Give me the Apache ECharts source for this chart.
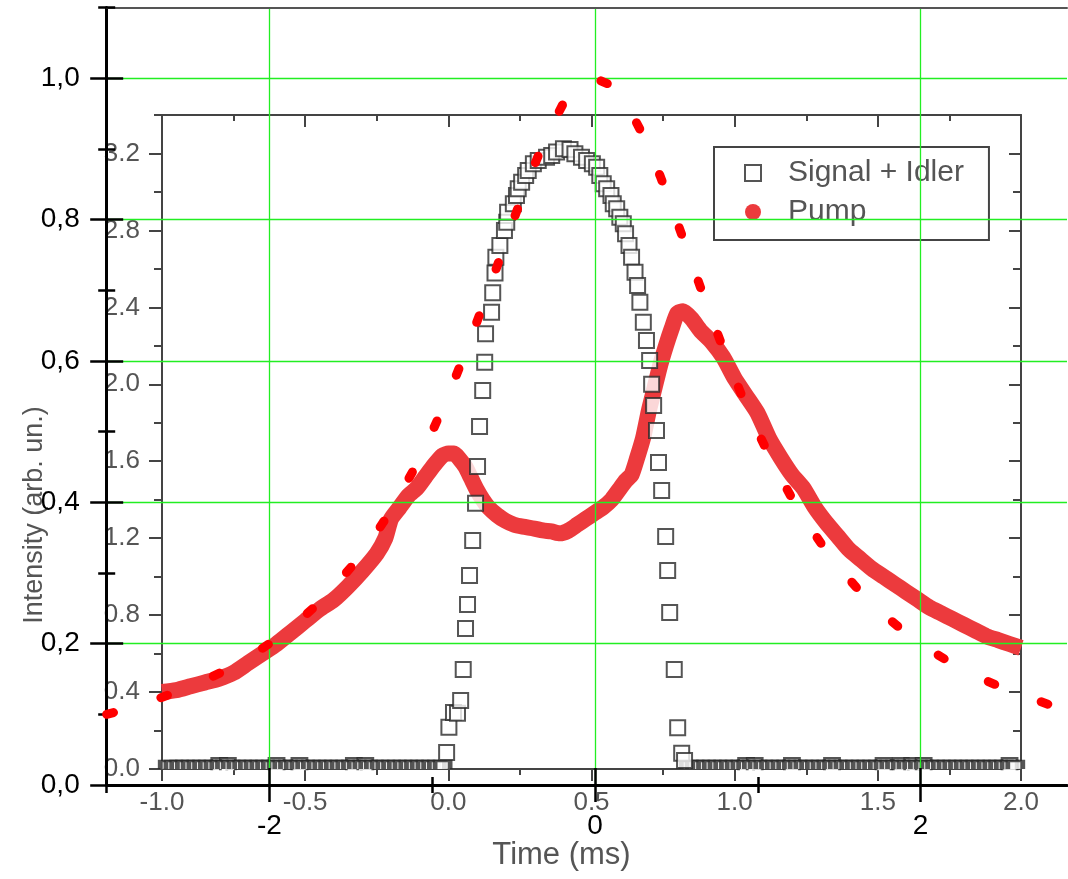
<!DOCTYPE html>
<html><head><meta charset="utf-8">
<script src="https://cdn.jsdelivr.net/npm/echarts@6/dist/echarts.min.js"></script>
<style>html,body{margin:0;padding:0;background:#fff}#c{width:1068px;height:879px}</style>
</head><body><div id="c"></div>
<script>
// ---------- inner (embedded) chart data ----------
const pumpT = [-1.00,-0.95,-0.90,-0.85,-0.80,-0.75,-0.70,-0.65,-0.60,-0.55,
  -0.50,-0.45,-0.40,-0.35,-0.30,-0.25,-0.22,-0.20,-0.17,-0.14,
  -0.11,-0.08,-0.05,-0.02,0.00,0.02,0.04,0.06,0.08,0.10,
  0.12,0.14,0.17,0.20,0.23,0.26,0.30,0.33,0.36,0.39,
  0.42,0.45,0.48,0.51,0.54,0.57,0.60,0.62,0.64,0.66,
  0.68,0.70,0.72,0.74,0.76,0.78,0.80,0.82,0.85,0.88,
  0.92,0.96,1.00,1.04,1.08,1.12,1.16,1.20,1.24,1.28,
  1.32,1.36,1.40,1.44,1.48,1.52,1.56,1.60,1.64,1.68,
  1.72,1.76,1.80,1.84,1.88,1.92,1.96,2.00];
const pumpV = [0.40,0.41,0.43,0.45,0.47,0.50,0.55,0.60,0.65,0.71,
  0.77,0.83,0.88,0.95,1.03,1.12,1.20,1.30,1.36,1.42,
  1.46,1.52,1.58,1.63,1.64,1.64,1.61,1.57,1.51,1.45,
  1.40,1.36,1.32,1.29,1.27,1.26,1.25,1.24,1.235,1.225,
  1.24,1.27,1.30,1.33,1.36,1.40,1.46,1.50,1.53,1.62,
  1.72,1.86,1.98,2.10,2.20,2.29,2.37,2.38,2.34,2.28,
  2.22,2.14,2.03,1.94,1.85,1.72,1.62,1.53,1.46,1.36,
  1.28,1.21,1.14,1.09,1.04,1.00,0.96,0.92,0.88,0.84,
  0.81,0.78,0.75,0.72,0.69,0.67,0.65,0.63];

const sigT = [-0.006,0.002,0.018,0.032,0.043,0.052,0.060,0.067,0.074,0.085,
  0.095,0.102,0.109,0.120,0.127,0.130,0.151,0.155,0.163,0.166,
  0.180,0.196,0.204,0.207,0.227,0.238,0.244,0.256,0.270,0.279,
  0.297,0.314,0.343,0.361,0.378,0.402,0.425,0.442,0.465,0.483,
  0.503,0.518,0.529,0.541,0.553,0.568,0.576,0.588,0.599,0.611,
  0.619,0.631,0.640,0.652,0.661,0.669,0.681,0.692,0.703,0.710,
  0.717,0.727,0.734,0.745,0.759,0.766,0.773,0.789,0.801,0.815,
  0.825];
const sigV = [0.086,0.217,0.294,0.290,0.356,0.517,0.731,0.855,1.006,1.188,
  1.381,1.573,1.781,1.968,2.114,2.263,2.375,2.476,2.578,2.661,
  2.722,2.800,2.843,2.895,2.939,2.982,3.017,3.051,3.086,3.112,
  3.147,3.164,3.181,3.190,3.207,3.225,3.220,3.199,3.181,3.164,
  3.147,3.129,3.086,3.043,3.017,2.982,2.939,2.913,2.869,2.835,
  2.783,2.722,2.661,2.583,2.514,2.427,2.323,2.228,2.124,2.000,
  1.890,1.760,1.594,1.448,1.209,1.032,0.814,0.517,0.214,0.082,
  0.044];

// baseline (zero-level) Signal + Idler points
const baseT = [-0.98,-0.96,-0.94,-0.92,-0.90,-0.88,-0.86,-0.84,-0.82,-0.80,
  -0.78,-0.76,-0.74,-0.72,-0.70,-0.68,-0.66,-0.64,-0.62,-0.60,
  -0.58,-0.56,-0.54,-0.52,-0.50,-0.48,-0.46,-0.44,-0.42,-0.40,
  -0.38,-0.36,-0.34,-0.32,-0.30,-0.28,-0.26,-0.24,-0.22,-0.20,
  -0.18,-0.16,-0.14,-0.12,-0.10,-0.08,-0.06,-0.04,-0.02,
  0.84,0.86,0.88,0.90,0.92,0.94,0.96,0.98,1.00,1.02,
  1.04,1.06,1.08,1.10,1.12,1.14,1.16,1.18,1.20,1.22,
  1.24,1.26,1.28,1.30,1.32,1.34,1.36,1.38,1.40,1.42,
  1.44,1.46,1.48,1.50,1.52,1.54,1.56,1.58,1.60,1.62,
  1.64,1.66,1.68,1.70,1.72,1.74,1.76,1.78,1.80,1.82,
  1.84,1.86,1.88,1.90,1.92,1.94,1.96,1.98];
const baseV = baseT.map(() => 0);
const raisedT = [-0.80,-0.77,-0.60,-0.52,-0.33,-0.29,1.04,1.07,1.20,1.34,1.52,1.58,1.62,1.66,1.96];
const raisedV = [0.025,0.025,0.025,0.025,0.025,0.025,0.025,0.025,0.025,0.025,0.025,0.025,0.025,0.025,0.025];

// ---------- outer (overlay) curve ----------
const fitX = [-3.0,-2.9,-2.8,-2.7,-2.6,-2.5,-2.4,-2.3,-2.2,-2.1,
  -2.0,-1.9,-1.8,-1.7,-1.6,-1.5,-1.4,-1.3,-1.2,-1.1,
  -1.0,-0.9,-0.8,-0.7,-0.6,-0.5,-0.4,-0.3,-0.2,-0.1,
  0.0,0.1,0.2,0.3,0.4,0.5,0.6,0.7,0.8,0.9,
  1.0,1.1,1.2,1.3,1.4,1.5,1.6,1.7,1.8,1.9,
  2.0,2.1,2.2,2.3,2.4,2.5,2.6,2.7,2.8,2.9,3.0];
const fitY = [0.100,0.106,0.113,0.121,0.129,0.138,0.148,0.159,0.171,0.185,
  0.200,0.217,0.236,0.257,0.281,0.308,0.338,0.372,0.410,0.452,
  0.500,0.552,0.610,0.671,0.735,0.800,0.862,0.917,0.962,0.990,
  1.000,0.990,0.962,0.917,0.862,0.800,0.735,0.671,0.610,0.552,
  0.500,0.452,0.410,0.372,0.338,0.308,0.281,0.257,0.236,0.217,
  0.200,0.185,0.171,0.159,0.148,0.138,0.129,0.121,0.113,0.106,0.100];

// tick values
const innerYMajor = [0, 0.4, 0.8, 1.2, 1.6, 2.0, 2.4, 2.8, 3.2];
const innerYMinor = [0.2, 0.6, 1.0, 1.4, 1.8, 2.2, 2.6, 3.0, 3.4];
const outerXMajor = [-2, 0, 2];
const outerXMinorOut = [-3, -1, 1];
const outerXMinorIn = [-1, 1];
const outerYMajor = [0, 0.2, 0.4, 0.6, 0.8, 1.0];
const outerYMinor = [0.1, 0.3, 0.5, 0.7, 0.9, 1.1];

const FONT = 'Liberation Sans, Arial, sans-serif';
const GREY = '#444';
const TXT = '#555';
const GREEN = '#22ee22';
const zip = (a, b) => a.map((v, i) => [v, b[i]]);

const none = {show: false};
const noLine = {show: false, onZero: false};
function innerX(pos, extra) {
  return Object.assign({
    gridIndex: 0, type: 'value', min: -1, max: 2, interval: 0.5, position: pos,
    axisLine: {show: true, onZero: false, lineStyle: {color: GREY, width: 2}},
    axisTick: {show: true, length: 12, lineStyle: {color: GREY, width: 2}},
    minorTick: {show: true, splitNumber: 2, length: 6, lineStyle: {color: GREY, width: 2}},
    axisLabel: none, splitLine: none
  }, extra);
}
function innerY(pos, ticks, len, inside, extra) {
  return Object.assign({
    gridIndex: 0, type: 'value', min: 0, max: 3.4, position: pos,
    axisLine: noLine,
    axisTick: {show: true, inside: inside, length: len, customValues: ticks, lineStyle: {color: GREY, width: 2}},
    axisLabel: none, splitLine: none
  }, extra);
}
function outerX(ticks, len, inside, extra) {
  return Object.assign({
    gridIndex: 1, type: 'value', min: -3, max: 2.9, position: 'bottom', z: 6,
    axisLine: noLine,
    axisTick: {show: true, inside: inside, length: len, customValues: ticks, lineStyle: {color: '#000', width: 2.5}},
    axisLabel: none, splitLine: none
  }, extra);
}
function outerY(ticks, len, inside, extra) {
  return Object.assign({
    gridIndex: 1, type: 'value', min: 0, max: 1.1, position: 'left', z: 6,
    axisLine: noLine,
    axisTick: {show: true, inside: inside, length: len, customValues: ticks, lineStyle: {color: '#000', width: 2.5}},
    axisLabel: none, splitLine: none
  }, extra);
}

const chart = echarts.init(document.getElementById('c'), null, {renderer: 'canvas'});
chart.setOption({
  animation: false,
  backgroundColor: '#fff',
  textStyle: {fontFamily: FONT},
  grid: [
    {left: 162, top: 115, width: 859, height: 654},
    {left: 106.7, top: 7.6, width: 960.3, height: 777.4}
  ],
  legend: {
    orient: 'vertical', left: 714, top: 147, z: 3,
    padding: [11, 25, 13, 30], itemGap: 9, itemWidth: 16, itemHeight: 16,
    backgroundColor: '#fff', borderColor: GREY, borderWidth: 2, borderRadius: 0,
    selectedMode: false,
    textStyle: {fontSize: 30, color: TXT, fontFamily: FONT, padding: [0, 0, 0, 22]},
    data: [
      {name: 'Signal + Idler', icon: 'rect', itemStyle: {color: '#fff', borderColor: '#2b2b2b', borderWidth: 2}},
      {name: 'Pump', icon: 'circle', itemStyle: {color: '#ec3a3d', borderWidth: 0}}
    ]
  },
  xAxis: [
    innerX('bottom', {
      axisLabel: {show: true, margin: 21, fontSize: 26, color: TXT, fontFamily: FONT, formatter: v => v.toFixed(1)},
      name: 'Time (ms)', nameLocation: 'middle', nameGap: 71,
      nameTextStyle: {fontSize: 31, color: TXT, fontFamily: FONT, padding: [0, 60, 0, 0]}
    }),
    innerX('top', {axisTick: {show: true, inside: true, length: 12, lineStyle: {color: GREY, width: 2}}}),
    outerX(outerXMajor, 17, false, {
      axisLine: {show: true, onZero: false, lineStyle: {color: '#000', width: 3}},
      axisLabel: {show: true, customValues: outerXMajor, margin: 27, fontSize: 28, color: '#000', fontFamily: FONT},
      splitLine: {show: true, lineStyle: {color: GREEN, width: 1.3}}
    }),
    outerX(outerXMajor, 17, true),
    outerX(outerXMinorOut, 8, false),
    outerX(outerXMinorIn, 8, true),
    {gridIndex: 1, type: 'value', min: -3, max: 2.9, position: 'top', z: 6,
     axisLine: {show: true, onZero: false, lineStyle: {color: '#555', width: 2}}, axisTick: none, axisLabel: none, splitLine: none}
  ],
  yAxis: [
    innerY('left', innerYMajor, 13, false, {
      axisLine: {show: true, onZero: false, lineStyle: {color: GREY, width: 2}},
      axisLabel: {show: true, customValues: innerYMajor, margin: 22, fontSize: 26, color: TXT, fontFamily: FONT, formatter: v => v.toFixed(1)},
      name: 'Intensity (arb. un.)', nameLocation: 'middle', nameGap: 114,
      nameTextStyle: {fontSize: 27, color: TXT, fontFamily: FONT, padding: [0, 146, 0, 0]}
    }),
    innerY('left', innerYMinor, 8, false),
    innerY('right', innerYMajor, 12, true, {axisLine: {show: true, onZero: false, lineStyle: {color: GREY, width: 2}}}),
    innerY('right', innerYMinor, 8, true),
    outerY(outerYMajor, 16.5, false, {
      axisLine: {show: true, onZero: false, lineStyle: {color: '#000', width: 3}},
      axisLabel: {show: true, customValues: outerYMajor, margin: 27, fontSize: 28, color: '#000', fontFamily: FONT,
        formatter: v => v.toFixed(1).replace('.', ',')},
      splitLine: {show: true, lineStyle: {color: GREEN, width: 1.3}}
    }),
    outerY(outerYMajor, 16.5, true),
    outerY(outerYMinor, 8.5, false),
    outerY(outerYMinor, 8.5, true)
  ],
  series: [
    {
      name: 'Pump', type: 'line', xAxisIndex: 0, yAxisIndex: 0, z: 2,
      data: zip(pumpT, pumpV), symbol: 'none', smooth: 0.2,
      lineStyle: {color: '#ec3a3d', width: 16, cap: 'butt', join: 'round'},
      itemStyle: {color: '#ec3a3d'}
    },
    {
      name: 'Signal + Idler', type: 'scatter', xAxisIndex: 0, yAxisIndex: 0, z: 2,
      data: zip(raisedT, raisedV),
      symbol: 'path://M0,12L0,0L15,0L15,12', symbolSize: [15, 12],
      itemStyle: {color: '#fff', borderColor: '#2b2b2b', borderWidth: 2.5}
    },
    {
      name: 'Signal + Idler', type: 'scatter', xAxisIndex: 0, yAxisIndex: 0, z: 2,
      data: zip(baseT, baseV),
      symbol: 'path://M0,8L0,0L15,0L15,8', symbolSize: [15, 8], symbolOffset: [0, -4],
      itemStyle: {color: '#fff', borderColor: '#2b2b2b', borderWidth: 3.5}
    },
    {
      name: 'Signal + Idler', type: 'scatter', xAxisIndex: 0, yAxisIndex: 0, z: 2,
      data: zip(sigT, sigV),
      symbol: 'rect', symbolSize: 15,
      itemStyle: {color: '#fff', borderColor: '#2b2b2b', borderWidth: 2}
    },
    {
      name: 'fit', type: 'line', xAxisIndex: 2, yAxisIndex: 4, z: 10,
      data: zip(fitX, fitY), symbol: 'none', clip: true,
      lineStyle: {color: '#ff0000', width: 9, type: [7, 49.7], cap: 'round', dashOffset: 0}
    }
  ]
});
</script></body></html>
